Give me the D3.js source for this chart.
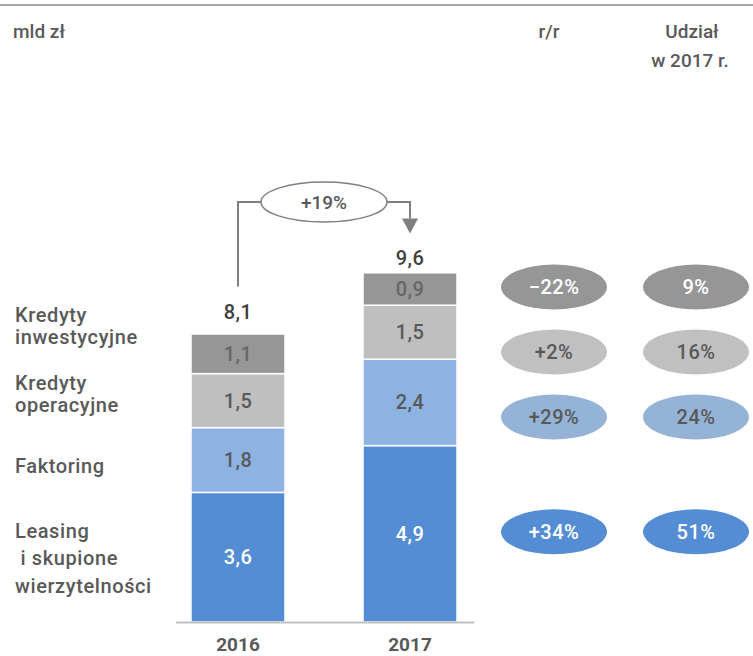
<!DOCTYPE html>
<html>
<head>
<meta charset="utf-8">
<script src="https://cdn.jsdelivr.net/npm/d3@7"></script>
<style>
  body { margin: 0; background: #fff; }
  svg { display: block; font-family: Roboto, "DejaVu Sans", sans-serif; font-weight: 500; }
</style>
</head>
<body>
<svg id="chart" width="753" height="656"></svg>
<script>
// data
var years = ["2016", "2017"];
var categories = ["Leasing\n i skupione\nwierzytelności", "Faktoring", "Kredyty\noperacyjne", "Kredyty\ninwestycyjne"];
var values2016 = [3.6, 1.8, 1.5, 1.1];
var values2017 = [4.9, 2.4, 1.5, 0.9];
var totals = [8.1, 9.6];
var changeYoY = ["+34%", "+29%", "+2%", "-22%"];
var share2017 = ["51%", "24%", "16%", "9%"];
var totalChange = "+19%";

var colors = ["#548dd4", "#8db3e2", "#bfbfbf", "#969696"];
var labelColors = ["#ffffff", "#595959", "#595959", "#666666"];
var pillText = ["#ffffff", "#595959", "#595959", "#ffffff"];
var pillColors = ["#548dd4", "#95b3d7", "#c0c0c0", "#969696"];
// baselines of the left-hand label lines (layout only)
var labelBaselines = [[538, 565, 593], [473], [390, 412], [322, 344]];

var fmt = function (v) { return String(v).replace(".", ","); };
var TXT = "#595959";

var svg = d3.select("#chart");

var x = d3.scaleBand().domain(years).range([152, 496]).paddingInner(0.4535).paddingOuter(0.2267);
var y = d3.scaleLinear().domain([0, 10]).range([622, 262]);

// stacked data
var rows = years.map(function (yr, i) {
  var o = {year: yr};
  var src = i === 0 ? values2016 : values2017;
  categories.forEach(function (c, k) { o[c] = src[k]; });
  return o;
});
var stack = d3.stack().keys(categories)(rows);

// top rule
svg.append("line").attr("x1", 0).attr("x2", 753).attr("y1", 5).attr("y2", 5)
  .attr("stroke", "#a6a6a6").attr("stroke-width", 2);

// header
svg.append("text").attr("x", 13).attr("y", 38).attr("fill", TXT)
  .style("font-size", "19px").text("mld zł");
svg.append("text").attr("x", 549).attr("y", 38).attr("fill", TXT).attr("text-anchor", "middle")
  .style("font-size", "19px").text("r/r");
svg.append("text").attr("x", 692).attr("y", 38).attr("fill", TXT).attr("text-anchor", "middle")
  .style("font-size", "19px").text("Udział");
svg.append("text").attr("x", 690).attr("y", 67).attr("fill", TXT).attr("text-anchor", "middle")
  .style("font-size", "19px").text("w 2017 r.");

// bars
var layer = svg.selectAll(".layer").data(stack).enter().append("g")
  .attr("class", "layer")
  .attr("fill", function (d, i) { return colors[i]; });

layer.selectAll("rect").data(function (d) { return d; }).enter().append("rect")
  .attr("x", function (d) { return x(d.data.year); })
  .attr("width", x.bandwidth())
  .attr("y", function (d) { return y(d[1]); })
  .attr("height", function (d) { return y(d[0]) - y(d[1]); })
  .attr("stroke", "#fff").attr("stroke-width", 1.5);

layer.selectAll("text").data(function (d, i) {
    return d.map(function (p) { return {p: p, i: i}; });
  }).enter().append("text")
  .attr("x", function (d) { return x(d.p.data.year) + x.bandwidth() / 2; })
  .attr("y", function (d) { return (y(d.p[0]) + y(d.p[1])) / 2 + 7; })
  .attr("text-anchor", "middle")
  .attr("fill", function (d) { return labelColors[d.i]; })
  .style("font-size", "20px").style("letter-spacing", "0.5px")
  .text(function (d) { return fmt(+(d.p[1] - d.p[0]).toFixed(1)); });

// baseline
svg.append("line").attr("x1", 176).attr("x2", 474).attr("y1", y(0) + 0.5).attr("y2", y(0) + 0.5)
  .attr("stroke", "#bfbfbf").attr("stroke-width", 2);

// year labels
svg.selectAll(".year").data(years).enter().append("text")
  .attr("class", "year")
  .attr("x", function (d) { return x(d) + x.bandwidth() / 2; })
  .attr("y", 651)
  .attr("text-anchor", "middle").attr("fill", TXT)
  .style("font-size", "19px").style("font-weight", "bold")
  .text(function (d) { return d; });

// totals
svg.selectAll(".total").data(totals).enter().append("text")
  .attr("class", "total")
  .attr("x", function (d, i) { return x(years[i]) + x.bandwidth() / 2; })
  .attr("y", function (d) { return y(d) - 11; })
  .attr("text-anchor", "middle").attr("fill", "#404040")
  .style("font-size", "20px").style("letter-spacing", "0.5px")
  .text(fmt);

// growth bracket
var cx0 = x(years[0]) + x.bandwidth() / 2;
var cx1 = x(years[1]) + x.bandwidth() / 2;
var topY = 202;
var ex = (cx0 + cx1) / 2;
var erx = 63, ery = 20;
var gray = "#7f7f7f";
svg.append("path")
  .attr("d", "M" + cx0 + "," + (y(totals[0]) - 44) + "V" + topY + "H" + (ex - erx))
  .attr("fill", "none").attr("stroke", gray).attr("stroke-width", 2);
svg.append("path")
  .attr("d", "M" + (ex + erx) + "," + topY + "H" + cx1 + "V" + (y(totals[1]) - 58))
  .attr("fill", "none").attr("stroke", gray).attr("stroke-width", 2);
var tipY = y(totals[1]) - 43;
svg.append("path")
  .attr("d", "M" + (cx1 - 8) + "," + (tipY - 15) + "L" + (cx1 + 8) + "," + (tipY - 15) + "L" + cx1 + "," + tipY + "Z")
  .attr("fill", gray);
svg.append("ellipse").attr("cx", ex).attr("cy", topY).attr("rx", erx).attr("ry", ery)
  .attr("fill", "#fff").attr("stroke", gray).attr("stroke-width", 1.5);
svg.append("text").attr("x", ex).attr("y", topY + 7).attr("text-anchor", "middle")
  .attr("fill", TXT).style("font-size", "19px").text(totalChange);

// category labels
categories.forEach(function (c, k) {
  var t = svg.append("text").attr("fill", TXT).style("font-size", "20px").style("letter-spacing", "0.6px");
  c.split("\n").forEach(function (line, j) {
    t.append("tspan").attr("x", 15).attr("y", labelBaselines[k][j])
      .attr("xml:space", "preserve").text(line);
  });
});

// pill rows: segment middles of 2017, pushed apart to a minimum gap
var mids = stack.map(function (s) { return (y(s[1][0]) + y(s[1][1])) / 2; });
var order = d3.range(categories.length).sort(function (a, b) { return mids[a] - mids[b]; });
var rowY = mids.slice();
var minGap = 65;
order.forEach(function (k, j) {
  if (j > 0) {
    var prev = rowY[order[j - 1]];
    if (rowY[k] < prev + minGap) rowY[k] = prev + minGap;
  }
});
rowY = rowY.map(function (v) { return v - 2; });

var cols = [{cx: 554, vals: changeYoY}, {cx: 696, vals: share2017}];
cols.forEach(function (col) {
  var g = svg.append("g");
  g.selectAll("ellipse").data(col.vals).enter().append("ellipse")
    .attr("cx", col.cx).attr("cy", function (d, k) { return rowY[k]; })
    .attr("rx", 53).attr("ry", 22.5)
    .attr("fill", function (d, k) { return pillColors[k]; });
  g.selectAll("text").data(col.vals).enter().append("text")
    .attr("x", col.cx).attr("y", function (d, k) { return rowY[k] + 7; })
    .attr("text-anchor", "middle")
    .attr("fill", function (d, k) { return pillText[k]; })
    .style("font-size", "20px").style("letter-spacing", "0.5px")
    .text(function (d) { return d.replace("-", "\u2212"); });
});
</script>
</body>
</html>
